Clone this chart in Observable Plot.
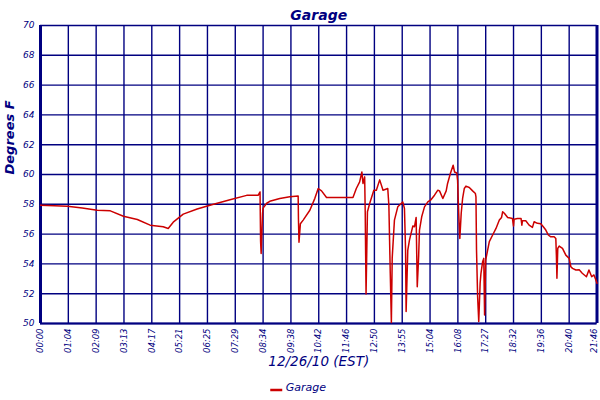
<!DOCTYPE html>
<html>
<head>
<meta charset="utf-8">
<script src="https://cdn.jsdelivr.net/npm/d3@7"></script>
<script src="https://cdn.jsdelivr.net/npm/@observablehq/plot@0.6"></script>
<style>
  html, body { margin: 0; padding: 0; background: #ffffff; }
</style>
</head>
<body>
<div id="chart"></div>
<script>
// Tick labels along the x axis (positions 0..20)
const xLabels = ["00:00","01:04","02:09","03:13","04:17","05:21","06:25","07:29","08:34","09:38",
  "10:42","11:46","12:50","13:55","15:04","16:08","17:27","18:32","19:36","20:40","21:46"];
const yTicks = [50, 52, 54, 56, 58, 60, 62, 64, 66, 68, 70];
const seriesName = "Garage";

// Position along the x axis (in tick units) and temperature (°F)
const tPos = [0, 0.5, 0.97, 1.5, 2.04, 2.51, 2.98, 3.48, 3.94, 4.41, 4.59, 4.77, 5.13, 5.63, 6.09, 6.81,
  7.41, 7.82, 7.89, 7.91, 7.93, 7.96, 7.98, 8.00, 8.13, 8.24, 8.60, 8.96, 9.26, 9.27, 9.29, 9.34, 9.44,
  9.68, 9.86, 9.98, 10.10, 10.28, 10.93, 11.23, 11.35, 11.47, 11.55, 11.59, 11.65, 11.67, 11.70, 11.75,
  11.83, 11.98, 12.07, 12.19, 12.31, 12.48, 12.52, 12.57, 12.61, 12.64, 12.72, 12.84, 13.02, 13.08, 13.12,
  13.14, 13.20, 13.26, 13.38, 13.44, 13.50, 13.54, 13.59, 13.62, 13.70, 13.80, 13.92, 14.04, 14.16, 14.28,
  14.34, 14.46, 14.58, 14.63, 14.73, 14.83, 14.88, 14.96, 14.99, 15.03, 15.07, 15.12, 15.17, 15.23, 15.29,
  15.41, 15.53, 15.63, 15.65, 15.67, 15.71, 15.75, 15.80, 15.83, 15.89, 15.93, 15.96, 16.00, 16.07, 16.13,
  16.25, 16.37, 16.49, 16.57, 16.61, 16.67, 16.79, 16.96, 17.00, 17.02, 17.14, 17.27, 17.30, 17.32, 17.44,
  17.56, 17.68, 17.74, 17.86, 17.98, 18.07, 18.16, 18.25, 18.34, 18.46, 18.52, 18.54, 18.56, 18.59, 18.64,
  18.76, 18.88, 19.00, 19.06, 19.12, 19.24, 19.36, 19.47, 19.62, 19.71, 19.81, 19.89, 19.95, 20.00];
const temps = [57.94, 57.9, 57.87, 57.75, 57.6, 57.56, 57.2, 56.98, 56.6, 56.49, 56.38, 56.8, 57.34, 57.68, 57.94, 58.3,
  58.6, 58.6, 58.83, 55.5, 54.7, 56.4, 57.4, 57.74, 58.07, 58.2, 58.39, 58.5, 58.55, 57.05, 55.45, 56.7, 56.94,
  57.6, 58.4, 59.06, 58.9, 58.46, 58.46, 58.46, 59.06, 59.5, 60.17, 59.4, 59.84, 57.5, 51.98, 57.5,
  58.05, 58.94, 58.94, 59.64, 58.94, 59.06, 57.94, 53.4, 50.06, 54.4, 56.94, 57.83, 58.16, 57.72, 54.93,
  50.8, 54.93, 55.6, 56.54, 56.49, 57.12, 52.47, 54.5, 56.27, 57.16, 57.83, 58.16, 58.32, 58.61, 58.95,
  58.9, 58.39, 58.9, 59.4, 60.07, 60.62, 60.17, 60.1, 59.6, 57.4, 55.7, 57.4, 58.39, 59.06, 59.22,
  59.13, 58.9, 58.72, 58.5, 54.93, 51.8, 50.13, 52.7, 53.37, 54.15, 54.37, 50.57, 54.26, 54.93, 55.49,
  55.94, 56.38, 56.94, 57.12, 57.5, 57.4, 57.12, 57.05, 56.54, 57.0, 57.05, 57.05, 56.6, 56.9, 56.9,
  56.6, 56.45, 56.83, 56.72, 56.7, 56.49, 56.27, 55.94, 55.82, 55.82, 55.7, 54.6, 53.03, 55.04, 55.2,
  55.04, 54.59, 54.37, 53.81, 53.7, 53.59, 53.6, 53.37, 53.14, 53.59, 53.14, 53.26, 52.97, 52.7];

const data = tPos.map((t, i) => ({t, v: temps[i]}));
const navy = "#000080";
const red = "#cc0000";
const font = "DejaVu Sans";

const legendLine = (index, scales, values, dim) => {
  const cx = (dim.marginLeft + dim.width - dim.marginRight) / 2;
  const y = dim.height - dim.marginBottom + 67;
  return d3.create("svg:line")
    .attr("x1", cx - 48).attr("x2", cx - 36)
    .attr("y1", y).attr("y2", y)
    .attr("stroke", red).attr("stroke-width", 2.5)
    .node();
};

const xAxisOpts = {tickFormat: i => xLabels[i], tickSize: 0, tickPadding: 5,
  tickRotate: -90, fontSize: 8.5, fontStyle: "italic", label: null};

const chart = Plot.plot({
  width: 600,
  height: 400,
  marginLeft: 40,
  marginRight: 3.5,
  marginTop: 25,
  marginBottom: 77,
  x: {domain: [0, 20]},
  y: {domain: [50, 70]},
  style: {fontFamily: font, color: navy, background: "#ffffff", overflow: "visible"},
  marks: [
    Plot.ruleX(d3.range(21), {stroke: navy, strokeWidth: 1.4}),
    Plot.ruleY(yTicks, {stroke: navy, strokeWidth: 1.4}),
    Plot.ruleY([50], {stroke: navy, strokeWidth: 2}),
    Plot.ruleX([0], {stroke: navy, strokeWidth: 3}),
    Plot.ruleX([20], {stroke: navy, strokeWidth: 3}),
    Plot.line(data, {x: "t", y: "v", stroke: red, strokeWidth: 1.5}),
    Plot.axisY({ticks: yTicks, tickSize: 0, tickPadding: 6, fontSize: 9, fontStyle: "italic", label: null}),
    Plot.axisX({...xAxisOpts, ticks: d3.range(20)}),
    Plot.axisX({...xAxisOpts, ticks: [20], dx: -2.5}),
    Plot.text([seriesName], {text: d => d, frameAnchor: "top", dy: -15, fontSize: 14,
      fontWeight: "bold", fontStyle: "italic", fill: navy}),
    Plot.text(["Degrees F"], {text: d => d, frameAnchor: "left", dx: -31, rotate: -90, fontSize: 13,
      fontWeight: "bold", fontStyle: "italic", fill: navy}),
    Plot.text(["12/26/10 (EST)"], {text: d => d, frameAnchor: "bottom", dy: 42, fontSize: 13.5,
      fontStyle: "italic", fill: navy}),
    Plot.text([seriesName], {text: d => d, frameAnchor: "bottom", dx: -33, dy: 67, textAnchor: "start",
      fontSize: 11, fontStyle: "italic", fill: navy}),
    legendLine
  ]
});
document.getElementById("chart").appendChild(chart);
</script>
</body>
</html>
